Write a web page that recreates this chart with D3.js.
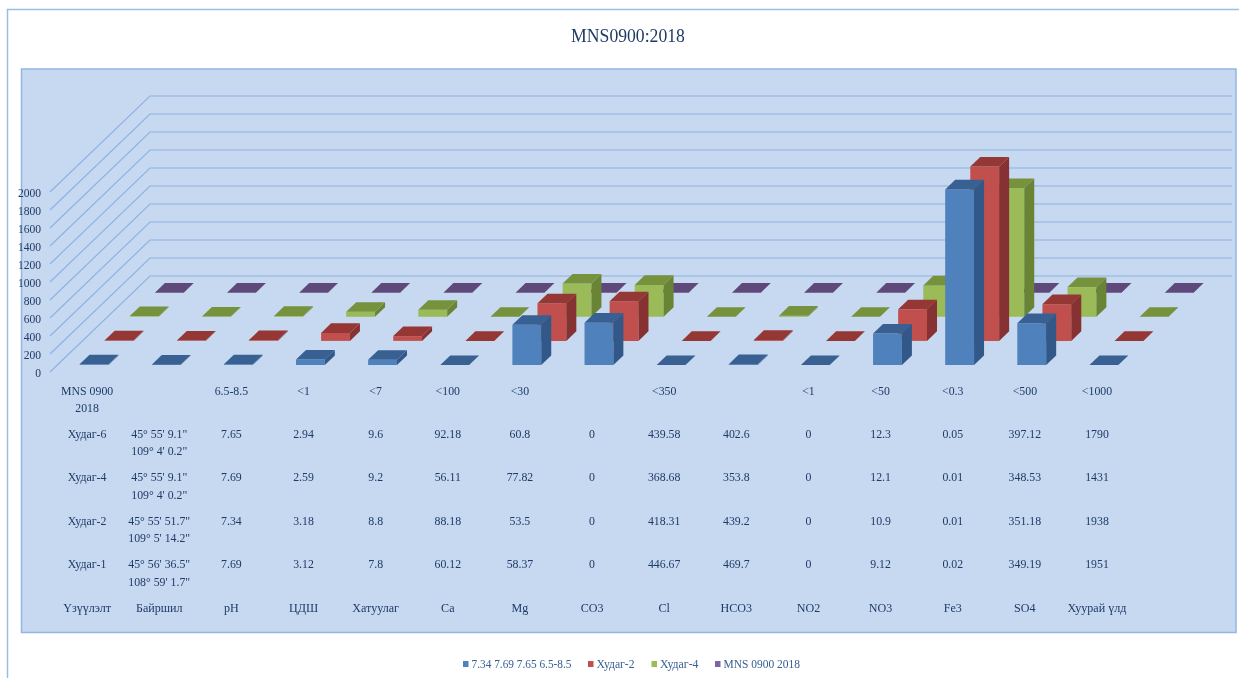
<!DOCTYPE html>
<html><head><meta charset="utf-8">
<script src="https://cdnjs.cloudflare.com/ajax/libs/d3/7.8.5/d3.min.js"></script>
<style>
html,body{margin:0;padding:0;background:#fff;overflow:hidden}
svg{display:block}
text{font-family:"Liberation Serif","Times New Roman",serif}
</style></head><body>
<svg id="c" width="1239" height="678"></svg>
<script>
const title = "MNS0900:2018";
const categories = ["Үзүүлэлт","Байршил","pH","ЦДШ","Хатуулаг","Ca","Mg","CO3","Cl","HCO3","NO2","NO3","Fe3","SO4","Хуурай үлд"];
const seriesNames = ["7.34 7.69 7.65 6.5-8.5","Худаг-2","Худаг-4","MNS 0900 2018"];
const blueValues   = [7.69,3.12,7.8,60.12,58.37,0,446.67,469.7,0,9.12,0.02,349.19,1951,465,0];
const redValues    = [7.34,3.18,8.8,88.18,53.5,0,418.31,439.2,0,10.9,0.01,351.18,1938,408,0];
const greenValues  = [7.69,2.59,9.2,56.11,77.82,0,368.68,353.8,0,12.1,0.01,348.53,1431,330,0];
const purpleValues = [0,0,0,0,0,0,0,0,0,0,0,0,0,0,0];
const yTicks = [0,200,400,600,800,1000,1200,1400,1600,1800,2000];
const rowMNS = ["MNS 0900|2018","","6.5-8.5","<1","<7","<100","<30","","<350","","<1","<50","<0.3","<500","<1000"];
const rowH6 = ["Худаг-6","45° 55' 9.1\"|109° 4' 0.2\"","7.65","2.94","9.6","92.18","60.8","0","439.58","402.6","0","12.3","0.05","397.12","1790"];
const rowH4 = ["Худаг-4","45° 55' 9.1\"|109° 4' 0.2\"","7.69","2.59","9.2","56.11","77.82","0","368.68","353.8","0","12.1","0.01","348.53","1431"];
const rowH2 = ["Худаг-2","45° 55' 51.7\"|109° 5' 14.2\"","7.34","3.18","8.8","88.18","53.5","0","418.31","439.2","0","10.9","0.01","351.18","1938"];
const rowH1 = ["Худаг-1","45° 56' 36.5\"|108° 59' 1.7\"","7.69","3.12","7.8","60.12","58.37","0","446.67","469.7","0","9.12","0.02","349.19","1951"];

const seriesValues = [blueValues, redValues, greenValues, purpleValues];
const faceColors = [
  {front:"#4F81BD", top:"#376092", side:"#30598A"},
  {front:"#C0504D", top:"#953735", side:"#873330"},
  {front:"#9BBB59", top:"#76923C", side:"#6A8436"},
  {front:"#8064A2", top:"#5F497A", side:"#513E68"}
];
const legendSwatch = ["#4F81BD","#C0504D","#9BBB59","#8064A2"];
const inkDark = "#1F3A66";

const svg = d3.select("#c");
const defs = svg.append("defs");
defs.append("filter").attr("id","soft").attr("x","-5%").attr("y","-5%").attr("width","110%").attr("height","110%")
  .append("feGaussianBlur").attr("stdDeviation",0.45);
const defsG = defs.append("filter").attr("id","softer");
defsG.append("feGaussianBlur").attr("stdDeviation",0.3);

// frame
svg.append("path").attr("d","M7.5,678V9.5H1239").attr("fill","none").attr("stroke","#9DBCE4").attr("stroke-width",1.5);
svg.append("rect").attr("x",21.5).attr("y",69).attr("width",1214.5).attr("height",563.5)
  .attr("fill","#C6D9F1").attr("stroke","#94B5E4").attr("stroke-width",1.5);

// scales
const x = d3.scaleBand().domain(categories).range([50,1132]).paddingInner(0.6).paddingOuter(0.3).align(0.515);
const y = d3.scaleLinear().domain([0,2000]).range([372,192]);
const depth = d3.scalePoint().domain(seriesNames).range([0.073,0.826]);
const wallX = 100, wallY = 96, barDepth = 0.10;
const px = (xv,d) => xv + wallX*d;
const py = (v,d) => y(v) - wallY*d;

// gridlines
const grid = svg.append("g").attr("fill","none").attr("stroke","#8FB2E2").attr("stroke-width",1.2);
grid.selectAll("path").data(yTicks).join("path")
  .attr("d",t => `M${px(50,0)},${py(t,0)}L${px(50,1)},${py(t,1)}L${px(1132,1)},${py(t,1)}`);

// y axis
const axisG = svg.append("g").attr("transform","translate(41,0)")
  .call(d3.axisLeft(y).tickValues(yTicks).tickSize(0).tickPadding(0).tickFormat(d3.format("d")));
axisG.select(".domain").remove();
axisG.selectAll("text").attr("font-size",13).attr("fill",inkDark)
  .style("font-family",'"Liberation Serif",serif')
  .attr("x",0)
  .attr("transform",function(){ return "scale(0.89,1)"; })
  .attr("filter","url(#soft)");

// bars: back series first
const bars = svg.append("g").attr("filter","url(#softer)");
[3,2,1,0].forEach(si => {
  const name = seriesNames[si], d0 = depth(name), d1 = d0 + barDepth, c = faceColors[si], w = x.bandwidth();
  const g = bars.append("g").attr("class","series");
  const items = categories.map((cat,i)=>({cat,v:seriesValues[si][i]}));
  items.forEach(it => {
    const xl = x(it.cat);
    const poly = pts => "M"+pts.map(p=>p.join(",")).join("L")+"Z";
    if (it.v > 0) {
      g.append("path").attr("fill",c.front).attr("d",poly([[px(xl,d0),py(it.v,d0)],[px(xl+w,d0),py(it.v,d0)],[px(xl+w,d0),py(0,d0)],[px(xl,d0),py(0,d0)]]));
      g.append("path").attr("fill",c.side).attr("d",poly([[px(xl+w,d0),py(it.v,d0)],[px(xl+w,d1),py(it.v,d1)],[px(xl+w,d1),py(0,d1)],[px(xl+w,d0),py(0,d0)]]));
    }
    g.append("path").attr("fill",c.top).attr("d",poly([[px(xl,d0),py(it.v,d0)],[px(xl+w,d0),py(it.v,d0)],[px(xl+w,d1),py(it.v,d1)],[px(xl,d1),py(it.v,d1)]]));
  });
});

// title
svg.append("text").text(title).attr("transform","translate(628,42) scale(0.93,1)").attr("text-anchor","middle")
  .attr("font-size",19).attr("fill",inkDark).attr("filter","url(#soft)");

// data table
const table = svg.append("g").attr("font-size",13).attr("fill",inkDark).attr("text-anchor","middle").attr("filter","url(#soft)");
const rowLines = [[rowMNS,394.5],[rowH6,437.5],[rowH4,481],[rowH2,524.5],[rowH1,568]];
const lineGap = 17.5;
const textX = cat => x(cat)+x.bandwidth()/2+0.4;
rowLines.forEach(([row,yb]) => row.forEach((cell,i) => {
  cell.split("|").forEach((s,k) => {
    if (!s) return;
    table.append("text").text(s).attr("transform",`translate(${textX(categories[i])},${yb+k*lineGap}) scale(0.91,1)`);
  });
}));
categories.forEach(cat => {
  table.append("text").text(cat).attr("transform",`translate(${textX(cat)},612) scale(0.93,1)`);
});

// legend
const legend = svg.append("g").attr("filter","url(#soft)");
const legendX = [463,588,651.5,715];
const legendW = [100,38,38.5,76.5];
seriesNames.forEach((n,i)=>{
  legend.append("rect").attr("x",legendX[i]).attr("y",661).attr("width",5.5).attr("height",6).attr("fill",legendSwatch[i]);
  legend.append("text").text(n).attr("x",legendX[i]+8.5).attr("y",667.5).attr("font-size",12.5).attr("fill","#366092")
    .attr("textLength",legendW[i]).attr("lengthAdjust","spacingAndGlyphs");
});
</script>
</body></html>
